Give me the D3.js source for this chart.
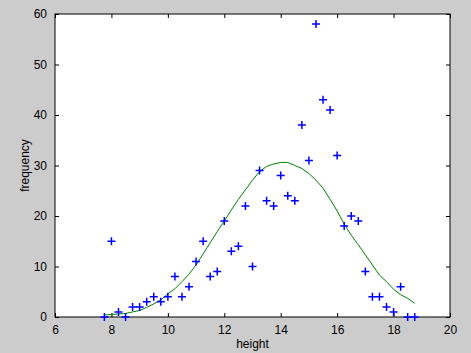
<!DOCTYPE html>
<html>
<head>
<meta charset="utf-8">
<script src="https://cdnjs.cloudflare.com/ajax/libs/d3/7.8.5/d3.min.js"></script>
<style>
  body { margin: 0; background: #cccccc; }
  text { font-family: "Liberation Sans", Arial, sans-serif; font-size: 12px; fill: #000; }
</style>
</head>
<body>
<div id="vis"></div>
<script>
// observed heights (bins) and counts
var heights = [7.75, 8, 8.25, 8.5, 8.75, 9, 9.25, 9.5, 9.75, 10, 10.25, 10.5, 10.75, 11, 11.25,
  11.5, 11.75, 12, 12.25, 12.5, 12.75, 13, 13.25, 13.5, 13.75, 14, 14.25, 14.5, 14.75, 15,
  15.25, 15.5, 15.75, 16, 16.25, 16.5, 16.75, 17, 17.25, 17.5, 17.75, 18, 18.25, 18.5, 18.75];
var counts = [0, 15, 1, 0, 2, 2, 3, 4, 3, 4, 8, 4, 6, 11, 15,
  8, 9, 19, 13, 14, 22, 10, 29, 23, 22, 28, 24, 23, 38, 31,
  58, 43, 41, 32, 18, 20, 19, 9, 4, 4, 2, 1, 6, 0, 0];
// fitted curve, same x positions
var fitted = [0.4, 0.5, 0.6, 0.7, 1.0, 1.3, 1.9, 2.6, 3.4, 4.6, 5.6, 7.0, 8.5, 10.3, 12.5,
  14.7, 16.9, 19.0, 21.2, 23.3, 25.2, 27.1, 28.8, 29.8, 30.3, 30.6, 30.6, 30.0, 29.4, 28.4,
  27.1, 25.5, 23.3, 21.0, 18.4, 16.2, 14.3, 12.3, 10.3, 8.3, 7.0, 5.5, 4.4, 3.7, 2.7];

var xTicks = [6, 8, 10, 12, 14, 16, 18, 20];
var yTicks = [0, 10, 20, 30, 40, 50, 60];

var width = 471, height = 353;
var margin = { left: 55, right: 21, top: 14, bottom: 36 };

var svg = d3.select('#vis').append('svg')
  .attr('width', width)
  .attr('height', height);

var x = d3.scaleLinear().domain([6, 20]).range([margin.left, width - margin.right]);
var y = d3.scaleLinear().domain([0, 60]).range([height - margin.bottom, margin.top]);

// white plot box
svg.append('rect')
  .attr('x', x(6)).attr('y', y(60))
  .attr('width', x(20) - x(6)).attr('height', y(0) - y(60))
  .attr('fill', '#fff');

// axes, ticks pointing inward on all four sides
var tickLen = 4;
function styleAxis(g) {
  g.select('.domain').remove();
  g.selectAll('line').attr('stroke', '#000');
  g.selectAll('text').style('font-size', '12px');
}
svg.append('g')
  .attr('transform', 'translate(0,' + y(0) + ')')
  .call(d3.axisBottom(x).tickValues(xTicks).tickSize(-tickLen).tickPadding(8).tickFormat(d3.format('d')))
  .call(styleAxis);
svg.append('g')
  .attr('transform', 'translate(0,' + y(60) + ')')
  .call(d3.axisTop(x).tickValues(xTicks).tickSize(-tickLen).tickFormat(''))
  .call(styleAxis);
svg.append('g')
  .attr('transform', 'translate(' + x(6) + ',0)')
  .call(d3.axisLeft(y).tickValues(yTicks).tickSize(-tickLen).tickPadding(8).tickFormat(d3.format('d')))
  .call(styleAxis);
svg.append('g')
  .attr('transform', 'translate(' + x(20) + ',0)')
  .call(d3.axisRight(y).tickValues(yTicks).tickSize(-tickLen).tickFormat(''))
  .call(styleAxis);

svg.append('rect')
  .attr('x', x(6)).attr('y', y(60))
  .attr('width', x(20) - x(6)).attr('height', y(0) - y(60))
  .attr('fill', 'none').attr('stroke', '#000').attr('stroke-width', 1);

// fitted curve
var line = d3.line()
  .x(function (d, i) { return x(heights[i]); })
  .y(function (d) { return y(d); });
svg.append('path')
  .datum(fitted)
  .attr('d', line)
  .attr('fill', 'none')
  .attr('stroke', '#008000')
  .attr('stroke-width', 1);

// plus markers
var arm = 4;
var marks = svg.selectAll('.mark')
  .data(counts)
  .enter().append('path')
  .attr('class', 'mark')
  .attr('d', function (d, i) {
    var cx = x(heights[i]), cy = y(d);
    return 'M' + (cx - arm) + ',' + cy + 'H' + (cx + arm) + 'M' + cx + ',' + (cy - arm) + 'V' + (cy + arm);
  })
  .attr('stroke', '#0000ff')
  .attr('stroke-width', 1.5)
  .attr('fill', 'none');

// axis labels
svg.append('text')
  .attr('x', (x(6) + x(20)) / 2)
  .attr('y', 348)
  .attr('text-anchor', 'middle')
  .text('height');
svg.append('text')
  .attr('transform', 'translate(29,' + (y(0) + y(60)) / 2 + ') rotate(-90)')
  .attr('text-anchor', 'middle')
  .text('frequency');
</script>
</body>
</html>
